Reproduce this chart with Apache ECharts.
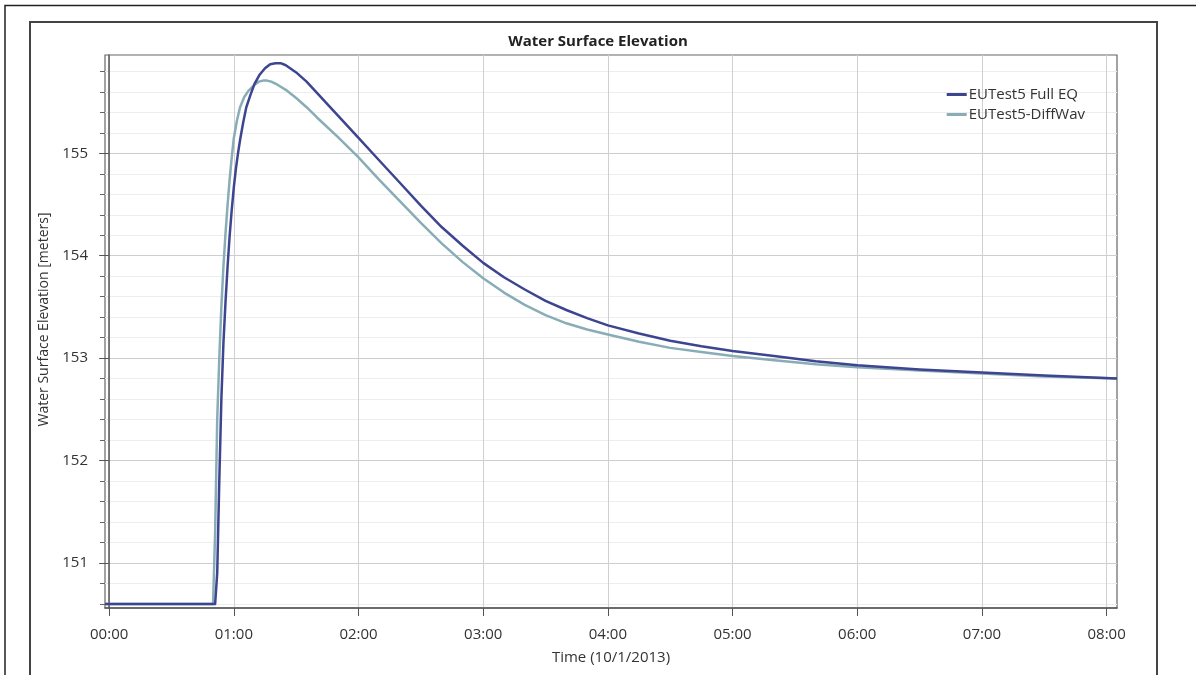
<!DOCTYPE html>
<html>
<head>
<meta charset="utf-8">
<script src="https://cdn.jsdelivr.net/npm/echarts@6/dist/echarts.min.js"></script>
<style>
  html, body { margin: 0; padding: 0; background: #fff; }
  #chart { width: 1196px; height: 675px; }
</style>
</head>
<body>
<div id="chart"></div>
<script>
// time in minutes after 00:00 on 10/1/2013, level in meters
var fullEqTime = [-2, 51, 52, 53, 54, 55, 56, 57, 58, 59, 60, 61, 62, 63, 64.5, 66, 68, 70, 72.5, 75, 77.5, 80, 82.5, 85, 90, 95,
  100, 105, 110, 120, 130, 140, 150, 160, 170, 180, 190, 200, 210, 220, 230, 240, 255, 270, 285, 300, 320, 340, 360, 390, 420, 450, 485];
var fullEqLevel = [150.6, 150.6, 150.9, 151.8, 152.6, 153.15, 153.55, 153.9, 154.2, 154.45, 154.67, 154.85, 155.0, 155.13, 155.3, 155.45, 155.57, 155.68, 155.77, 155.83, 155.87, 155.88, 155.88, 155.86, 155.79, 155.7,
  155.59, 155.48, 155.37, 155.15, 154.93, 154.71, 154.49, 154.28, 154.1, 153.93, 153.79, 153.67, 153.56, 153.47, 153.39, 153.32, 153.24, 153.17, 153.115, 153.07, 153.02, 152.97, 152.93, 152.89, 152.86, 152.83, 152.8];

var diffWavTime = [-2, 50, 51, 52, 53, 54, 55, 56, 57, 58, 59, 60, 61.5, 63, 65, 67, 70, 72, 74, 76, 78, 81, 85, 90, 95,
  100, 110, 120, 130, 140, 150, 160, 170, 180, 190, 200, 210, 220, 230, 240, 255, 270, 285, 300, 320, 340, 360, 390, 420, 450, 485];
var diffWavLevel = [150.6, 150.6, 151.3, 152.4, 153.0, 153.5, 153.9, 154.22, 154.5, 154.75, 154.96, 155.15, 155.32, 155.45, 155.55, 155.61, 155.67, 155.7, 155.71, 155.71, 155.7, 155.67, 155.62, 155.54, 155.45,
  155.35, 155.16, 154.96, 154.74, 154.53, 154.32, 154.12, 153.94, 153.78, 153.64, 153.52, 153.42, 153.34, 153.28, 153.23, 153.16, 153.1, 153.06, 153.02, 152.98, 152.94, 152.91, 152.88, 152.85, 152.82, 152.8];

var hourTicks = [0, 60, 120, 180, 240, 300, 360, 420, 480];
var majorLevels = [151, 152, 153, 154, 155];
var minorLevels = [150.6, 150.8, 151.2, 151.4, 151.6, 151.8, 152.2, 152.4, 152.6, 152.8,
  153.2, 153.4, 153.6, 153.8, 154.2, 154.4, 154.6, 154.8, 155.2, 155.4, 155.6, 155.8];

function pairs(xs, ys) {
  var out = [];
  for (var i = 0; i < xs.length; i++) {
    out.push([xs[i], ys[i]]);
  }
  return out;
}

var font = 'Open Sans';
var chart = echarts.init(document.getElementById('chart'), null, { renderer: 'canvas' });

chart.setOption({
  backgroundColor: '#ffffff',
  animation: false,
  textStyle: { fontFamily: font },
  title: {
    text: 'Water Surface Elevation',
    left: 'center',
    top: 29,
    textStyle: { fontFamily: font, fontSize: 15, fontWeight: 'bold', color: '#222' }
  },
  legend: {
    orient: 'vertical',
    right: 106,
    top: 82,
    itemGap: 5,
    itemWidth: 20,
    itemHeight: 3,
    icon: 'rect',
    textStyle: { fontFamily: font, fontSize: 15, lineHeight: 15, color: '#333', padding: [0, 0, 0, -3] },
    data: ['EUTest5 Full EQ', 'EUTest5-DiffWav']
  },
  graphic: [
    {
      type: 'polyline',
      shape: { points: [[5, 680], [5, 5.5], [1196, 5.5]] },
      style: { stroke: '#222', lineWidth: 1.5, fill: null }
    },
    {
      type: 'rect',
      shape: { x: 30, y: 22, width: 1127, height: 668 },
      style: { stroke: '#444', lineWidth: 2, fill: null }
    }
  ],
  grid: {
    left: 105,
    right: 79,
    top: 55,
    bottom: 67,
    show: true,
    borderColor: '#666',
    borderWidth: 1.2
  },
  xAxis: {
    type: 'value',
    min: -2,
    max: 485,
    name: 'Time (10/1/2013)',
    nameLocation: 'middle',
    nameGap: 42,
    nameTextStyle: { fontFamily: font, fontSize: 15, color: '#333' },
    axisLine: { show: true, onZero: false, lineStyle: { color: '#555', width: 1.5 } },
    axisTick: { show: true, inside: false, length: 8, customValues: hourTicks, lineStyle: { color: '#555' } },
    axisLabel: {
      customValues: hourTicks,
      margin: 19,
      fontFamily: font,
      fontSize: 15,
      color: '#333',
      formatter: function (v) {
        var h = Math.round(v / 60);
        return (h < 10 ? '0' : '') + h + ':00';
      }
    },
    splitLine: { show: true, lineStyle: { color: '#d0d0d0', width: 1 } }
  },
  yAxis: [
    {
      type: 'value',
      min: 150.56,
      max: 155.96,
      position: 'left',
      name: 'Water Surface Elevation [meters]',
      nameLocation: 'middle',
      nameGap: 47,
      nameRotate: 90,
      nameTextStyle: { fontFamily: font, fontSize: 14, color: '#333', padding: [0, 0, 0, 24] },
      axisLine: { show: true, lineStyle: { color: '#555', width: 1.5 } },
      axisTick: { show: true, inside: false, length: 10, customValues: majorLevels, lineStyle: { color: '#555' } },
      axisLabel: { customValues: majorLevels, margin: 17, fontFamily: font, fontSize: 15, color: '#333' },
      splitLine: { show: true, lineStyle: { color: '#cdcdcd', width: 1 } }
    },
    {
      type: 'value',
      min: 150.56,
      max: 155.96,
      position: 'left',
      axisLine: { show: false },
      axisTick: { show: true, inside: false, length: 5, customValues: minorLevels, lineStyle: { color: '#666' } },
      axisLabel: { show: false },
      splitLine: { show: true, lineStyle: { color: '#ededed', width: 1 } }
    }
  ],
  series: [
    {
      name: 'EUTest5 Full EQ',
      type: 'line',
      yAxisIndex: 0,
      symbol: 'none',
      smooth: false,
      lineStyle: { color: '#3d4590', width: 2.5, join: 'round' },
      itemStyle: { color: '#3d4590' },
      z: 4,
      data: pairs(fullEqTime, fullEqLevel)
    },
    {
      name: 'EUTest5-DiffWav',
      type: 'line',
      yAxisIndex: 0,
      symbol: 'none',
      smooth: false,
      lineStyle: { color: '#88adb6', width: 2.5, join: 'round' },
      itemStyle: { color: '#88adb6' },
      z: 3,
      data: pairs(diffWavTime, diffWavLevel)
    }
  ]
});
</script>
</body>
</html>
